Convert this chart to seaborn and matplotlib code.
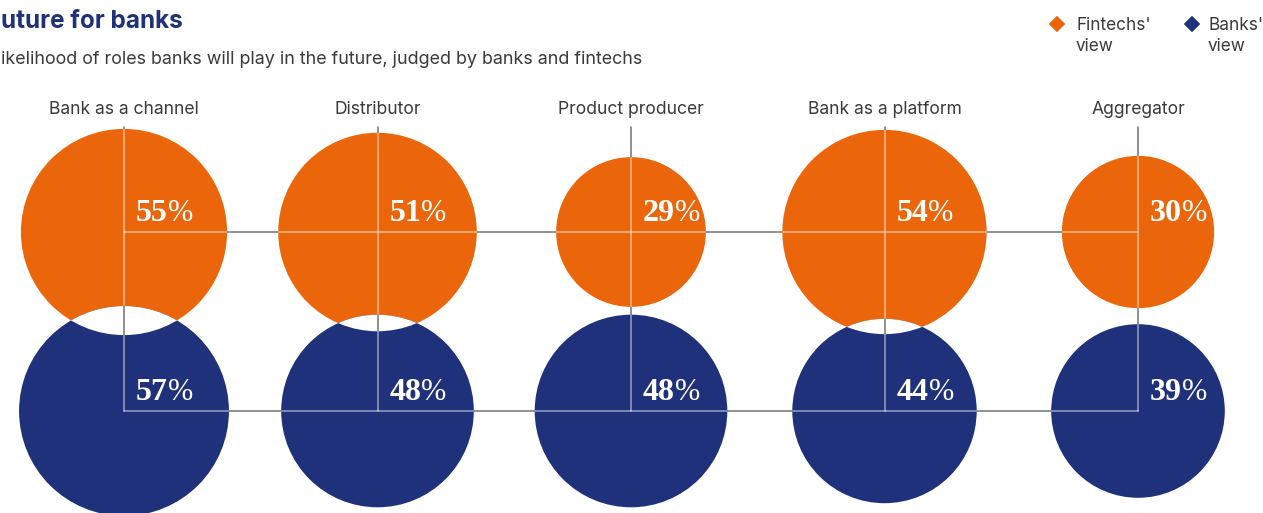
import numpy as np
import pandas as pd
import matplotlib
matplotlib.use("Agg")
import matplotlib.pyplot as plt
from matplotlib.patches import Circle
import seaborn as sns

# ---------------- data ----------------
categories = ["Bank as a channel", "Distributor", "Product producer",
              "Bank as a platform", "Aggregator"]
fintechs_view = [55, 51, 29, 54, 30]
banks_view = [57, 48, 48, 44, 39]
series_names = ["Fintechs' view", "Banks' view"]

# texts as visible in the (left-cropped) reference
title = "uture for banks"
subtitle = "ikelihood of roles banks will play in the future, judged by banks and fintechs"

# ---------------- style ----------------
ORANGE = "#EB660A"
BLUE = "#1F317A"
GRAY_LINE = "#7d7d7d"
TEXT = "#3a3a3a"
SANS = ["Inter", "DejaVu Sans"]
SERIF = ["Liberation Serif", "DejaVu Serif"]

sns.set_theme(style="white")
plt.rcParams["font.family"] = SANS

W, H = 1263, 513
fig = plt.figure(figsize=(W / 100, H / 100), dpi=100)
ax = fig.add_axes([0, 0, 1, 1])

# layout (pixels)
x0, dx = 124, 253.5
row_y = {series_names[0]: 232, series_names[1]: 411}
K = 13.9  # radius in px = K * sqrt(value)  (area proportional to value)
label_y = 109
vline_top = 127

xs = [x0 + dx * i for i in range(len(categories))]

df = pd.DataFrame({
    "x": xs * 2,
    "y": [row_y[series_names[0]]] * len(xs) + [row_y[series_names[1]]] * len(xs),
    "value": fintechs_view + banks_view,
    "series": [series_names[0]] * len(xs) + [series_names[1]] * len(xs),
})

# marker area in points^2 such that radius(px) = K*sqrt(value)
s100 = (2 * K * 10 * 72 / 100) ** 2
sns.scatterplot(data=df, x="x", y="y", size="value", sizes=(0, s100),
                size_norm=(0, 100), hue="series",
                palette={series_names[0]: ORANGE, series_names[1]: BLUE},
                linewidth=0, legend=False, ax=ax, zorder=2)


def radius(v):
    return K * np.sqrt(v)


yo, yb = row_y[series_names[0]], row_y[series_names[1]]

# base gray lines (visible outside the bubbles)
lw = 1.2
ax.plot([xs[0], xs[-1]], [yo, yo], color=GRAY_LINE, lw=lw, zorder=1)
ax.plot([xs[0], xs[-1]], [yb, yb], color=GRAY_LINE, lw=lw, zorder=1)
for x in xs:
    ax.plot([x, x], [vline_top, yb], color=GRAY_LINE, lw=lw, zorder=1)

for i, (cat, fv, bv) in enumerate(zip(categories, fintechs_view, banks_view)):
    x = xs[i]
    ro, rb = radius(fv), radius(bv)
    co = Circle((x, yo), ro, transform=ax.transData, facecolor="none", edgecolor="none")
    cb = Circle((x, yb), rb, transform=ax.transData, facecolor="none", edgecolor="none")
    ax.add_patch(co)
    ax.add_patch(cb)
    overlap = yb - rb < yo + ro
    # white lens where the two bubbles overlap
    if overlap:
        lens = Circle((x, yb), rb, facecolor="white", edgecolor="none", zorder=3)
        ax.add_patch(lens)
        lens.set_clip_path(co)
    # light lines on top of the bubbles
    for circ in (co, cb):
        lines = (ax.plot([xs[0], xs[-1]], [yo, yo], color="white", alpha=0.5, lw=lw, zorder=4)
                 + ax.plot([xs[0], xs[-1]], [yb, yb], color="white", alpha=0.5, lw=lw, zorder=4)
                 + ax.plot([x, x], [vline_top, yb], color="white", alpha=0.5, lw=lw, zorder=4))
        for ln in lines:
            ln.set_clip_path(circ)
    if overlap:
        ax.plot([x, x], [yb - rb, yo + ro], color=GRAY_LINE, lw=lw, zorder=5)

    # category label
    ax.text(x, label_y, cat, ha="center", va="center", fontsize=12.6,
            color=TEXT, family=SANS)

    # value labels
    for v, y in ((fv, yo), (bv, yb)):
        t = ax.text(x + 12, y - 11, f"{v}", ha="left", va="baseline",
                    fontsize=23, fontweight="bold", color="white",
                    family=SERIF, zorder=6)
        ax.annotate("%", xy=(1, 0), xycoords=t, xytext=(0, 0),
                    textcoords="offset points", ha="left", va="bottom",
                    fontsize=22, color="white", family=SERIF, zorder=6)

# title & subtitle
ax.text(1, 22, title, ha="left", va="center", fontsize=17.5,
        fontweight="bold", color=BLUE, family=SANS)
ax.text(1, 59, subtitle, ha="left", va="center", fontsize=12.9,
        color=TEXT, family=SANS)

# legend
leg_df = pd.DataFrame({"x": [1057, 1192], "y": [24, 24], "series": series_names})
sns.scatterplot(data=leg_df, x="x", y="y", hue="series", marker="D", s=70,
                palette={series_names[0]: ORANGE, series_names[1]: BLUE},
                linewidth=0, legend=False, ax=ax, zorder=6)
for (lx, name) in zip([1076, 1208], series_names):
    a, b = name.split(" ")
    ax.text(lx, 17, a + "\n" + b, ha="left", va="top", fontsize=12.4,
            color=TEXT, family=SANS, linespacing=1.3)

ax.set_xlim(0, W)
ax.set_ylim(H, 0)
ax.axis("off")

fig.savefig("out.png", dpi=100)
